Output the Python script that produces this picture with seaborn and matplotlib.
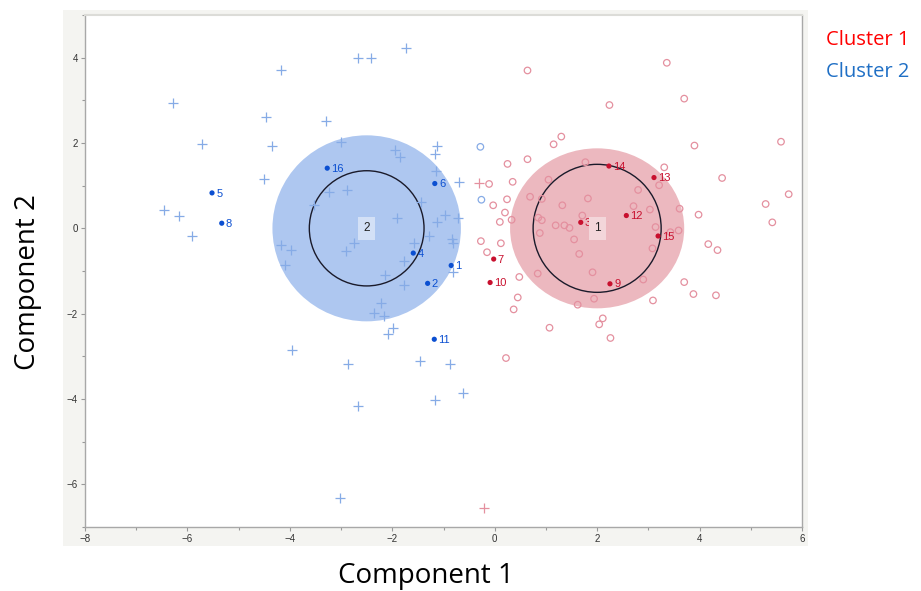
import matplotlib
matplotlib.use("Agg")
import matplotlib.pyplot as plt
from matplotlib.patches import Ellipse, Rectangle
import seaborn as sns
import pandas as pd

# ---- cluster 2 members (plus markers) ----
c2_x = [-6.28, -4.17, -5.71, -4.46, -4.34, -3.29, -3.00, -4.51, -6.45, -6.17, -5.91,
        -2.67, -2.41, -1.74, -3.24, -2.89, -3.53, -4.17, -3.98, -4.09, -2.90, -2.74,
        -1.94, -1.84, -1.13, -1.16, -1.14, -0.70, -1.43, -1.91, -0.98, -0.72, -1.13,
        -1.29, -0.84, -0.81, -1.57, -1.78, -2.15, -1.78, -0.81, -2.22, -2.36, -2.17,
        -1.98, -2.08, -3.96, -2.87, -1.45, -0.88, -0.61, -1.17, -2.67, -3.02]
c2_y = [2.94, 3.71, 1.97, 2.62, 1.93, 2.52, 2.02, 1.15, 0.44, 0.30, -0.19,
        4.00, 4.00, 4.22, 0.85, 0.89, 0.55, -0.38, -0.51, -0.87, -0.54, -0.35,
        1.83, 1.67, 1.94, 1.74, 1.34, 1.08, 0.62, 0.25, 0.31, 0.24, 0.14,
        -0.17, -0.26, -0.34, -0.34, -0.77, -1.09, -1.33, -1.02, -1.75, -1.98, -2.05,
        -2.33, -2.47, -2.86, -3.19, -3.12, -3.19, -3.87, -4.03, -4.16, -6.31]

# ---- cluster 1 members (open circles) ----
c1_x = [0.64, 3.36, 2.24, 3.70, 1.30, 1.15, 3.90, 5.59, 0.25, 0.64, 1.77, 3.31, 4.44,
        5.74, -0.11, 0.35, 1.05, 3.21, 2.80, -0.03, 0.24, 0.69, 0.92, 1.82, 1.32, 2.71,
        3.03, 3.61, 3.98, 5.29, 5.42, 0.20, 0.10, 0.33, 0.85, 0.92, 1.71, 1.19, 1.36,
        1.46, 0.88, 1.55, 3.14, 3.43, 3.59, 3.08, 4.17, 4.35, -0.27, 0.12, -0.15, 1.65,
        0.84, 0.48, 1.91, 2.90, 3.70, 3.88, 4.32, 0.45, 0.37, 1.62, 1.94, 3.09, 1.07,
        2.11, 2.04, 2.26, 0.22]
c1_y = [3.70, 3.88, 2.89, 3.04, 2.15, 1.97, 1.94, 2.03, 1.51, 1.62, 1.55, 1.43, 1.18,
        0.80, 1.04, 1.09, 1.14, 1.01, 0.90, 0.54, 0.68, 0.74, 0.69, 0.70, 0.54, 0.52,
        0.44, 0.46, 0.32, 0.57, 0.14, 0.37, 0.15, 0.20, 0.25, 0.19, 0.30, 0.07, 0.07,
        0.01, -0.11, -0.26, 0.03, -0.09, -0.05, -0.47, -0.37, -0.51, -0.30, -0.35, -0.56, -0.60,
        -1.06, -1.14, -1.03, -1.20, -1.26, -1.54, -1.57, -1.62, -1.90, -1.79, -1.65, -1.69, -2.33,
        -2.11, -2.25, -2.57, -3.04]

# ---- cross-assigned members ----
c2_open_x = [-0.28, -0.26]
c2_open_y = [1.91, 0.67]
c1_plus_x = [-0.31, -0.21]
c1_plus_y = [1.06, -6.56]

# ---- labelled observations ----
lab2_id = ["16", "5", "8", "6", "4", "1", "2", "11"]
lab2_x = [-3.27, -5.52, -5.33, -1.17, -1.59, -0.85, -1.31, -1.18]
lab2_y = [1.41, 0.83, 0.12, 1.05, -0.58, -0.87, -1.29, -2.60]
lab1_id = ["14", "13", "12", "3", "15", "7", "10", "9"]
lab1_x = [2.23, 3.11, 2.57, 1.68, 3.19, -0.02, -0.09, 2.25]
lab1_y = [1.46, 1.19, 0.30, 0.14, -0.18, -0.72, -1.27, -1.30]

# ---- cluster centres and extents ----
centre_id = ["1", "2"]
centre_x = [2.0, -2.5]
centre_y = [0.0, 0.0]
inner_w = [2.50, 2.24]
inner_h = [3.00, 2.70]
outer_w = [3.40, 3.68]
outer_h = [3.75, 4.36]

x_ticks = [-8, -6, -4, -2, 0, 2, 4, 6]
y_ticks = [-6, -4, -2, 0, 2, 4]

BLUE_FILL = "#aec7f0"
PINK_FILL = "#ecb8bf"
BLUE_MARK = "#86abe6"
PINK_MARK = "#e4909f"
BLUE_DARK = "#0b4fd1"
RED_DARK = "#c8102e"

sns.set_theme(style="white")
plt.rcParams["font.family"] = ["Liberation Sans", "DejaVu Sans"]

fig = plt.figure(figsize=(9.21, 5.91), dpi=100)
fig.patch.set_facecolor("white")
W, H = 921, 591
fig.patches.append(Rectangle((63 / W, 1 - 546 / H), (808 - 63) / W, (546 - 10) / H,
                             transform=fig.transFigure, facecolor="#f4f4f1",
                             edgecolor="none", zorder=0))
ax = fig.add_axes([85 / W, 1 - 527 / H, (802 - 85) / W, (527 - 15) / H])
ax.set_facecolor("white")
ax.set_zorder(1)

# shaded cluster regions and density contours
fills = [PINK_FILL, BLUE_FILL]
for i in range(2):
    ax.add_patch(Ellipse((centre_x[i], centre_y[i]), outer_w[i], outer_h[i],
                         facecolor=fills[i], edgecolor="none", zorder=1))
    ax.add_patch(Ellipse((centre_x[i], centre_y[i]), inner_w[i], inner_h[i],
                         facecolor="none", edgecolor="#1a1a2a", lw=1.0, zorder=3))

df2 = pd.DataFrame({"x": c2_x, "y": c2_y})
df1 = pd.DataFrame({"x": c1_x, "y": c1_y})
sns.scatterplot(data=df2, x="x", y="y", marker="+", s=50, color=BLUE_MARK,
                linewidth=0.9, ax=ax, zorder=4)
sns.scatterplot(data=df1, x="x", y="y", marker="o", s=22, facecolor="none",
                edgecolor=PINK_MARK, linewidth=0.9, ax=ax, zorder=4)
sns.scatterplot(x=c2_open_x, y=c2_open_y, marker="o", s=22, facecolor="none",
                edgecolor=BLUE_MARK, linewidth=0.9, ax=ax, zorder=4)
sns.scatterplot(x=c1_plus_x, y=c1_plus_y, marker="+", s=50, color=PINK_MARK,
                linewidth=0.9, ax=ax, zorder=4)

sns.scatterplot(x=lab2_x, y=lab2_y, s=14, color=BLUE_DARK, edgecolor="none", ax=ax, zorder=5)
sns.scatterplot(x=lab1_x, y=lab1_y, s=14, color=RED_DARK, edgecolor="none", ax=ax, zorder=5)
for t, x, y in zip(lab2_id, lab2_x, lab2_y):
    ax.annotate(t, (x, y), xytext=(3, -0.5), textcoords="offset points",
                ha="left", va="center", fontsize=8, color=BLUE_DARK, zorder=6)
for t, x, y in zip(lab1_id, lab1_x, lab1_y):
    ax.annotate(t, (x, y), xytext=(3, -0.5), textcoords="offset points",
                ha="left", va="center", fontsize=8, color=RED_DARK, zorder=6)

box_colors = ["#f3d6da", "#d3e0f6"]
for i in range(2):
    ax.text(centre_x[i], centre_y[i], centre_id[i], ha="center", va="center",
            fontsize=8.5, color="#222222", zorder=6,
            bbox=dict(boxstyle="square,pad=0.45", facecolor=box_colors[i], edgecolor="none"))

ax.set_xlim(-8, 6)
ax.set_ylim(-7, 5)
ax.set_xticks(x_ticks)
ax.set_yticks(y_ticks)
ax.set_xticks(range(-7, 6, 2), minor=True)
ax.set_yticks(range(-7, 6, 2), minor=True)
ax.tick_params(axis="both", which="major", direction="out", length=3, width=0.8,
               color="#999999", labelsize=7, labelcolor="#333333", pad=2,
               bottom=True, left=True)
ax.tick_params(axis="both", which="minor", direction="out", length=2, width=0.8,
               color="#999999", bottom=True, left=True)
ax.set_xlabel("")
ax.set_ylabel("")
for side in ["left", "bottom", "right"]:
    ax.spines[side].set_color("#a8a8a8")
    ax.spines[side].set_linewidth(1.0)
ax.spines["top"].set_color("#dcdcd8")
ax.spines["top"].set_linewidth(1.5)

fig.text(426 / W, 1 - 576 / H, "Component 1", ha="center", va="center",
         fontsize=20, color="black", family=["Open Sans", "DejaVu Sans"])
fig.text(28 / W, 1 - 282 / H, "Component 2", ha="center", va="center",
         rotation=90, fontsize=20, color="black", family=["Open Sans", "DejaVu Sans"])
fig.text(826 / W, 1 - 40 / H, "Cluster 1", ha="left", va="center",
         fontsize=14.5, color="#ff0000", family=["Open Sans", "DejaVu Sans"])
fig.text(826 / W, 1 - 72 / H, "Cluster 2", ha="left", va="center",
         fontsize=14.5, color="#1f6fc5", family=["Open Sans", "DejaVu Sans"])

fig.savefig("out.png", dpi=100)
